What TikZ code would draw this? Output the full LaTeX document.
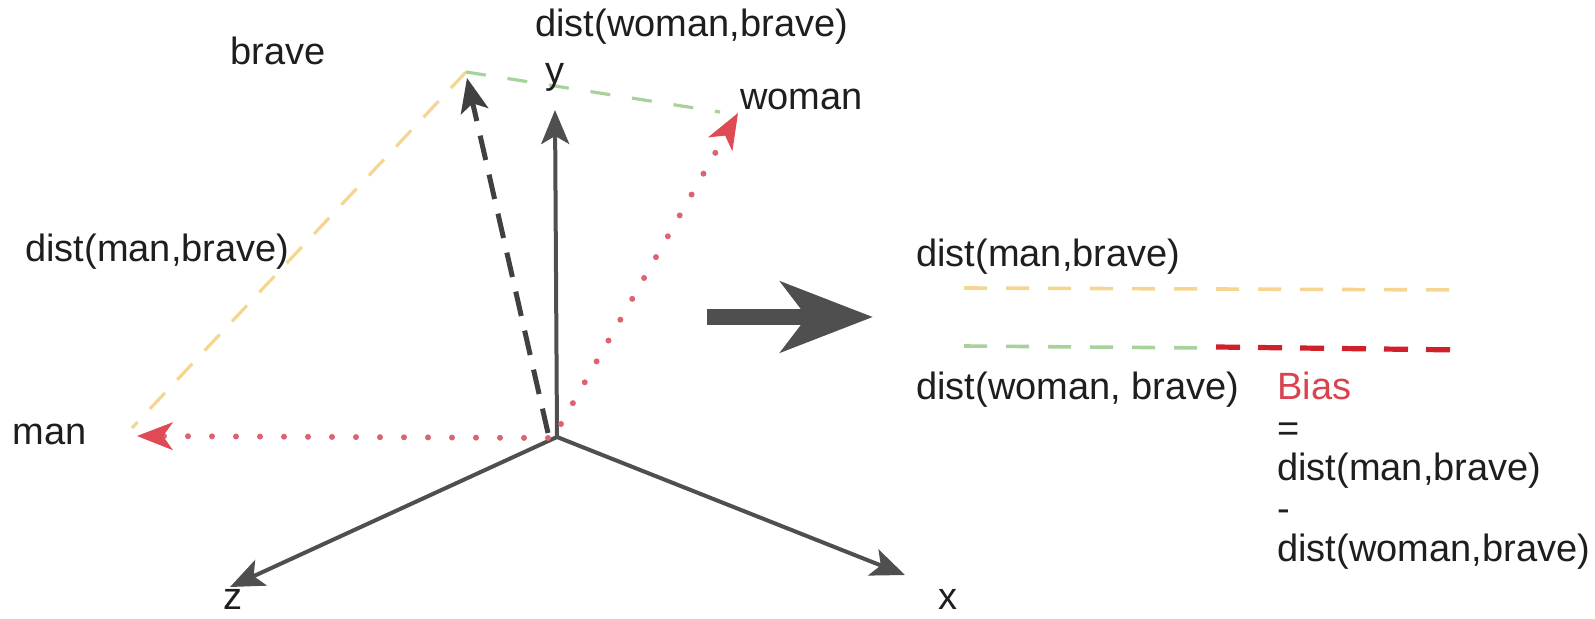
\documentclass[tikz,border=0pt]{standalone}
\usepackage{fontspec}
\setmainfont{Liberation Sans}
\usetikzlibrary{arrows.meta}
\definecolor{axisgray}{HTML}{4F4F4F}
\definecolor{dashgray}{HTML}{404040}
\definecolor{txt}{HTML}{1E1E1E}
\definecolor{ylw}{HTML}{F4D690}
\definecolor{grn}{HTML}{A8D29A}
\definecolor{dotred}{HTML}{DC6470}
\definecolor{tipred}{HTML}{E04A55}
\definecolor{darkred}{HTML}{D11F2C}
\definecolor{biasred}{HTML}{D8434F}
\begin{document}
\begin{tikzpicture}[x=0.5pt,y=-0.5pt,
  lbl/.style={inner sep=0pt, text=txt, font=\fontsize{19}{22}\selectfont},
  axisline/.style={draw=axisgray, line width=2pt, -{Stealth[length=17pt,width=14pt,inset=4pt]}},
  blackdash/.style={draw=dashgray, line width=2.5pt, dash pattern=on 12.5pt off 7.5pt, -{Stealth[length=17pt,width=14pt,inset=4pt]}},
  reddot/.style={draw=dotred, line width=3pt, line cap=round, dash pattern=on 0pt off 12pt, -{Stealth[length=18pt,width=14pt,inset=5pt,color=tipred,fill=tipred,line width=0.5pt]}},
  ylwdash/.style={draw=ylw, line width=1.6pt, dash pattern=on 11pt off 9pt},
  grndash/.style={draw=grn, line width=1.6pt, dash pattern=on 10pt off 11pt},
  ylwdashr/.style={draw=ylw, line width=1.8pt, dash pattern=on 11.5pt off 9.5pt},
  grndashr/.style={draw=grn, line width=1.8pt, dash pattern=on 11.5pt off 9.5pt},
  reddashr/.style={draw=darkred, line width=2.6pt, dash pattern=on 12pt off 9pt},
  bigarrow/.style={draw=axisgray, line width=8pt, -{Stealth[length=46pt,width=35pt,inset=13pt]}}
]
\useasboundingbox (0,0) rectangle (1595,619);

% coordinates of the 3D sketch
\coordinate (O) at (557,437);
\coordinate (ytip) at (555,110);
\coordinate (xtip) at (905,575);
\coordinate (ztip) at (230,587);
\coordinate (Ob) at (548,433);
\coordinate (Bt) at (467,78);
\coordinate (B) at (466,72);
\coordinate (Om) at (548,438);
\coordinate (M) at (137,436);
\coordinate (Mend) at (132,428);
\coordinate (Ow) at (561,424);
\coordinate (W) at (738,113);
\coordinate (Wend) at (720,112);

% right comparison lines
\coordinate (r1a) at (964,288);
\coordinate (r1b) at (1466,290);
\coordinate (r2a) at (964,346);
\coordinate (r2m) at (1206,348);
\coordinate (r3a) at (1216,347);
\coordinate (r3b) at (1462,350);
\coordinate (ba) at (707,317);
\coordinate (bb) at (873,317);

% lines
\draw[ylwdash] (B) -- (Mend);
\draw[grndash] (B) -- (Wend);
\draw[axisline] (O) -- (ytip);
\draw[axisline] (O) -- (xtip);
\draw[axisline] (O) -- (ztip);
\draw[blackdash] (Ob) -- (Bt);
\draw[reddot] (Om) -- (M);
\draw[reddot] (Ow) -- (W);

\draw[ylwdashr] (r1a) -- (r1b);
\draw[grndashr] (r2a) -- (r2m);
\draw[reddashr] (r3a) -- (r3b);
\draw[bigarrow] (ba) -- (bb);

% labels
\node[lbl, anchor=base west] (tbrave) at (230,65) {brave};
\node[lbl, anchor=base west] (tdwb) at (535,37) {dist(woman,brave)};
\node[lbl, anchor=base] (ty) at (555,84) {y};
\node[lbl, anchor=base west] (twoman) at (740,110) {woman};
\node[lbl, anchor=base west] (tdmb) at (25,262) {dist(man,brave)};
\node[lbl, anchor=base west] (tman) at (12,445) {man};
\node[lbl, anchor=base] (tz) at (233,610) {z};
\node[lbl, anchor=base] (tx) at (948,610) {x};

\node[lbl, anchor=base west] (rdmb) at (916,267) {dist(man,brave)};
\node[lbl, anchor=base west] (rdwb) at (916,400) {dist(woman, brave)};
\node[lbl, anchor=base west, text=biasred] (rbias) at (1277,400) {Bias};
\node[lbl, anchor=base west] (req) at (1277,442) {=};
\node[lbl, anchor=base west] (rd1) at (1277,481) {dist(man,brave)};
\node[lbl, anchor=base west] (rminus) at (1277,522) {-};
\node[lbl, anchor=base west] (rd2) at (1277,561) {dist(woman,brave)};
\end{tikzpicture}
\end{document}
